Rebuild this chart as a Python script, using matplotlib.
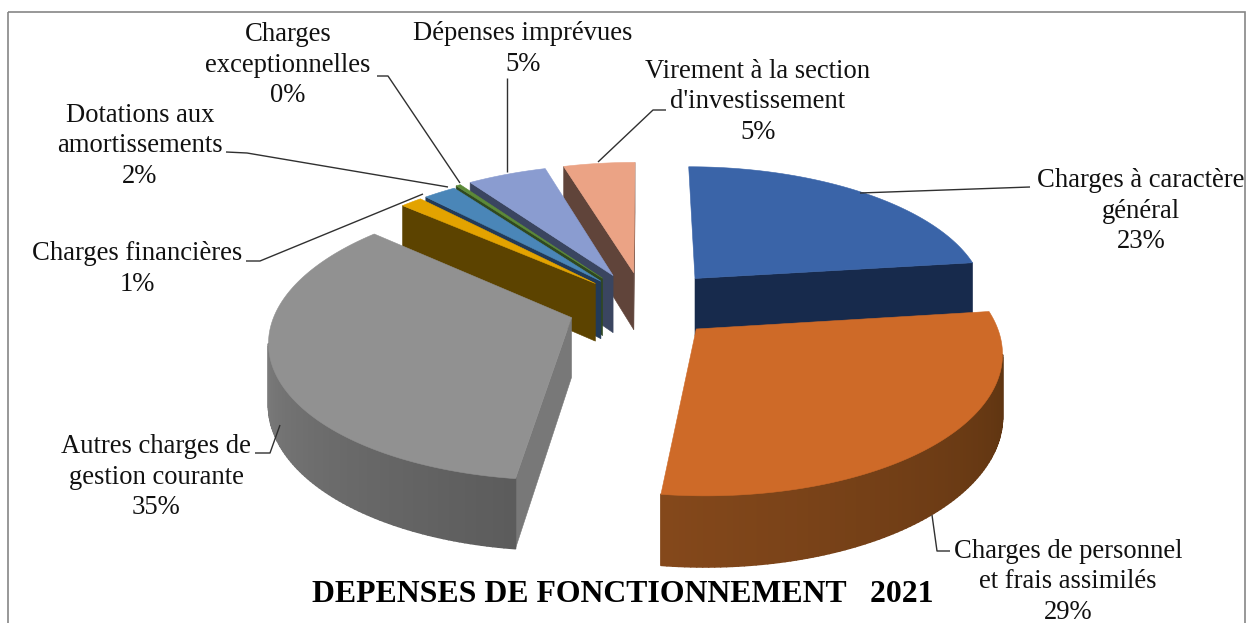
import numpy as np
import matplotlib
matplotlib.use("Agg")
import matplotlib.pyplot as plt
from matplotlib.patches import Polygon, Rectangle

# ---- data ----
categories = ["Charges à caractère\ngénéral", "Charges de personnel\net frais assimilés",
              "Autres charges de\ngestion courante", "Charges financières",
              "Dotations aux\namortissements", "Charges\nexceptionnelles",
              "Dépenses imprévues", "Virement à la section\nd'investissement"]
values = [23.0, 29.0, 34.5, 1.4, 2.1, 0.3, 5.1, 4.6]
percent_labels = ["23%", "29%", "35%", "1%", "2%", "0%", "5%", "5%"]
title = "DEPENSES DE FONCTIONNEMENT   2021"

# ---- style ----
top_colors = ["#3A64A8", "#CE6A28", "#919191", "#E3A300", "#4A86B8", "#5C8A38", "#8A9CD0", "#EBA385"]
cut_colors = ["#172A4C", "#7F4419", "#787878", "#5C4300", "#223A58", "#30481F", "#3A4560", "#60443A"]
side_start = ["#1A2F55", "#56300F", "#5C5C5C", "#5C4300", "#223A58", "#30481F", "#3A4560", "#60443A"]
side_end = ["#1A2F55", "#84481B", "#909090", "#5C4300", "#223A58", "#30481F", "#3A4560", "#60443A"]
draw_order = [7, 6, 5, 4, 3, 0, 2, 1]
explode = [0.27, 0.245, 0.26, 0.235, 0.235, 0.25, 0.25, 0.25]
hidden_cut_faces = {(0, 1)}
CX, CY, A, B, K, H = 644, 305, 294, 135, 0.145, 59

label_pos = [(1141, 211), (1068, 582), (156, 477), (137, 269), (140, 146), (288, 65), (523, 49), (758, 102)]
leaders = [[(860, 193), (1030, 187)],
           [(932, 515), (937, 551), (950, 551)],
           [(255, 453), (270, 453), (280, 425)],
           [(246, 261), (260, 261), (423, 194)],
           [(226, 152), (247, 153), (448, 187)],
           [(377, 76), (388, 76), (460, 183)],
           [(507, 78), (507, 172)],
           [(666, 110), (653, 110), (598, 162)]]


def project(u, v, drop=0.0):
    d = 1.0 / (1.0 - K * v)
    return CX + A * u * d, CY + B * v * d + H * d * drop


def hexrgb(c):
    return np.array(matplotlib.colors.to_rgb(c))


fig = plt.figure(figsize=(12.51, 6.23), dpi=100)
ax = fig.add_axes([0, 0, 1, 1])
ax.set_xlim(0, 1251)
ax.set_ylim(623, 0)
ax.axis("off")
ax.add_patch(Rectangle((7.5, 11.5), 1237, 640, fill=False, ec="#868686", lw=1.2, clip_on=True))

edges = np.concatenate([[0], np.cumsum(values)]) / np.sum(values) * 2 * np.pi


def cross(a, b):
    return a[0] * b[1] - a[1] * b[0]


for i in draw_order:
    t0, t1 = edges[i], edges[i + 1]
    mid = (t0 + t1) / 2
    ou, ov = explode[i] * np.sin(mid), -explode[i] * np.cos(mid)
    th = np.linspace(t0, t1, max(3, int((t1 - t0) * 60)))
    us, vs = ou + np.sin(th), ov - np.cos(th)
    top = [project(ou, ov)] + [project(u, v) for u, v in zip(us, vs)]
    apex = np.array(top[0])
    midpt = np.array(top[len(top) // 2]) - apex
    for end_idx, (eu, ev) in ((1, (us[0], vs[0])), (-1, (us[-1], vs[-1]))):
        if (i, end_idx) in hidden_cut_faces:
            continue
        e = np.array(project(eu, ev)) - apex
        if cross(e, (0, 1)) * cross(e, midpt) < 0:
            ax.add_patch(Polygon([project(ou, ov), project(eu, ev), project(eu, ev, 1),
                                  project(ou, ov, 1)], fc=cut_colors[i], ec=cut_colors[i], lw=0.4))
    c0, c1 = hexrgb(side_start[i]), hexrgb(side_end[i])
    for j in range(len(th) - 1):
        p, q = project(us[j], vs[j]), project(us[j + 1], vs[j + 1])
        if q[0] < p[0]:
            f = j / max(1, len(th) - 2)
            col = c0 + (c1 - c0) * f
            ax.add_patch(Polygon([p, q, project(us[j + 1], vs[j + 1], 1), project(us[j], vs[j], 1)],
                                 fc=col, ec=col, lw=1.2, joinstyle="round"))
    ax.add_patch(Polygon(top, fc=top_colors[i], ec=top_colors[i], lw=0.4))

for pts in leaders:
    x, y = zip(*pts)
    ax.plot(x, y, color="#303030", lw=1.0, solid_capstyle="butt")

FONT = "Liberation Serif"
for (x, y), cat, pct in zip(label_pos, categories, percent_labels):
    ax.text(x, y, cat + "\n" + pct, ha="center", va="center", family=FONT, fontsize=19.2,
            color="#111111", linespacing=1.31)
ax.text(623, 595, title, ha="center", va="center", family=FONT, fontsize=22.9, fontweight="bold", color="black")
fig.savefig("out.png", dpi=100, facecolor="white")
